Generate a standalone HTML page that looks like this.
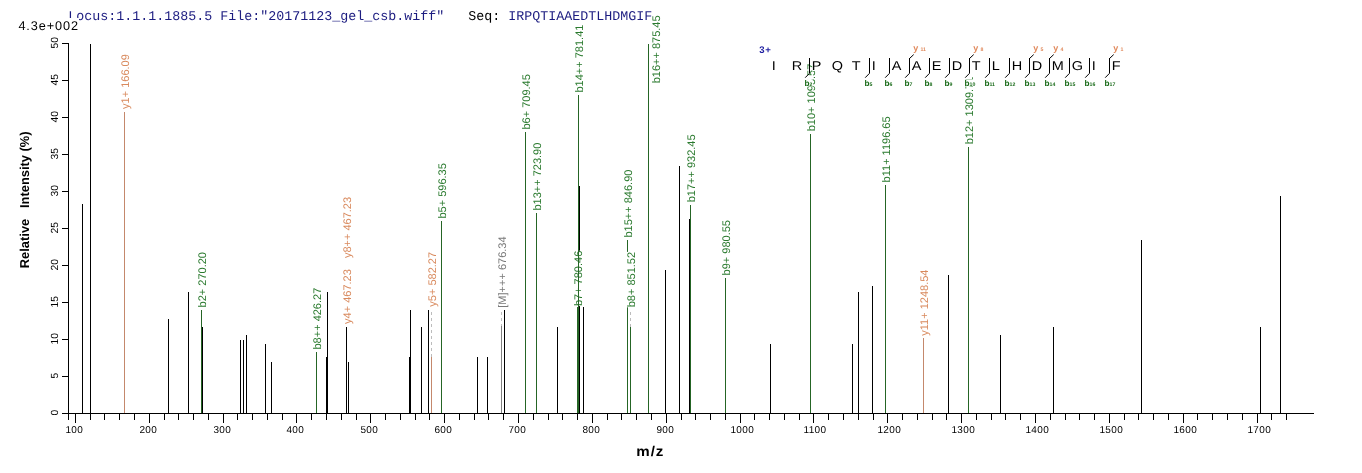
<!DOCTYPE html>
<html><head><meta charset="utf-8"><title>Spectrum</title>
<style>html,body{margin:0;padding:0;background:#fff;width:1362px;height:473px;overflow:hidden} svg{display:block}</style>
</head><body>
<svg width="1362" height="473" viewBox="0 0 1362 473" style="text-rendering:geometricPrecision">
<rect width="100%" height="100%" fill="#fff"/>
<text x="68.3" y="20" font-family="Liberation Mono, Courier New, monospace" font-size="13.33" fill="#1c1c80" xml:space="preserve">Locus:1.1.1.1885.5 File:"20171123_gel_csb.wiff"   <tspan fill="#000">Seq:</tspan> IRPQTIAAEDTLHDMGIF</text>
<rect x="15" y="18" width="64" height="15" fill="#fff"/>
<text x="18.4" y="30" font-family="Liberation Sans, Arial, sans-serif" font-size="12.7" letter-spacing="0.92" fill="#000">4.3e+002</text>
<g shape-rendering="crispEdges">
<rect x="68" y="43" width="1" height="371" fill="#000"/>
<rect x="62" y="413" width="6" height="1" fill="#000"/>
<rect x="62" y="376" width="6" height="1" fill="#000"/>
<rect x="62" y="339" width="6" height="1" fill="#000"/>
<rect x="62" y="302" width="6" height="1" fill="#000"/>
<rect x="62" y="265" width="6" height="1" fill="#000"/>
<rect x="62" y="228" width="6" height="1" fill="#000"/>
<rect x="62" y="191" width="6" height="1" fill="#000"/>
<rect x="62" y="154" width="6" height="1" fill="#000"/>
<rect x="62" y="117" width="6" height="1" fill="#000"/>
<rect x="62" y="80" width="6" height="1" fill="#000"/>
<rect x="62" y="43" width="6" height="1" fill="#000"/>
<rect x="62" y="413" width="1252" height="1" fill="#000"/>
<rect x="68" y="413" width="1" height="7" fill="#000"/>
<rect x="75" y="413" width="1" height="10" fill="#000"/>
<rect x="90" y="413" width="1" height="7" fill="#000"/>
<rect x="104" y="413" width="1" height="7" fill="#000"/>
<rect x="119" y="413" width="1" height="7" fill="#000"/>
<rect x="134" y="413" width="1" height="7" fill="#000"/>
<rect x="149" y="413" width="1" height="10" fill="#000"/>
<rect x="164" y="413" width="1" height="7" fill="#000"/>
<rect x="178" y="413" width="1" height="7" fill="#000"/>
<rect x="193" y="413" width="1" height="7" fill="#000"/>
<rect x="208" y="413" width="1" height="7" fill="#000"/>
<rect x="223" y="413" width="1" height="10" fill="#000"/>
<rect x="237" y="413" width="1" height="7" fill="#000"/>
<rect x="252" y="413" width="1" height="7" fill="#000"/>
<rect x="267" y="413" width="1" height="7" fill="#000"/>
<rect x="282" y="413" width="1" height="7" fill="#000"/>
<rect x="296" y="413" width="1" height="10" fill="#000"/>
<rect x="311" y="413" width="1" height="7" fill="#000"/>
<rect x="326" y="413" width="1" height="7" fill="#000"/>
<rect x="341" y="413" width="1" height="7" fill="#000"/>
<rect x="356" y="413" width="1" height="7" fill="#000"/>
<rect x="370" y="413" width="1" height="10" fill="#000"/>
<rect x="385" y="413" width="1" height="7" fill="#000"/>
<rect x="400" y="413" width="1" height="7" fill="#000"/>
<rect x="415" y="413" width="1" height="7" fill="#000"/>
<rect x="429" y="413" width="1" height="7" fill="#000"/>
<rect x="444" y="413" width="1" height="10" fill="#000"/>
<rect x="459" y="413" width="1" height="7" fill="#000"/>
<rect x="474" y="413" width="1" height="7" fill="#000"/>
<rect x="488" y="413" width="1" height="7" fill="#000"/>
<rect x="503" y="413" width="1" height="7" fill="#000"/>
<rect x="518" y="413" width="1" height="10" fill="#000"/>
<rect x="533" y="413" width="1" height="7" fill="#000"/>
<rect x="548" y="413" width="1" height="7" fill="#000"/>
<rect x="562" y="413" width="1" height="7" fill="#000"/>
<rect x="577" y="413" width="1" height="7" fill="#000"/>
<rect x="592" y="413" width="1" height="10" fill="#000"/>
<rect x="607" y="413" width="1" height="7" fill="#000"/>
<rect x="621" y="413" width="1" height="7" fill="#000"/>
<rect x="636" y="413" width="1" height="7" fill="#000"/>
<rect x="651" y="413" width="1" height="7" fill="#000"/>
<rect x="666" y="413" width="1" height="10" fill="#000"/>
<rect x="681" y="413" width="1" height="7" fill="#000"/>
<rect x="695" y="413" width="1" height="7" fill="#000"/>
<rect x="710" y="413" width="1" height="7" fill="#000"/>
<rect x="725" y="413" width="1" height="7" fill="#000"/>
<rect x="740" y="413" width="1" height="10" fill="#000"/>
<rect x="754" y="413" width="1" height="7" fill="#000"/>
<rect x="769" y="413" width="1" height="7" fill="#000"/>
<rect x="784" y="413" width="1" height="7" fill="#000"/>
<rect x="799" y="413" width="1" height="7" fill="#000"/>
<rect x="813" y="413" width="1" height="10" fill="#000"/>
<rect x="828" y="413" width="1" height="7" fill="#000"/>
<rect x="843" y="413" width="1" height="7" fill="#000"/>
<rect x="858" y="413" width="1" height="7" fill="#000"/>
<rect x="873" y="413" width="1" height="7" fill="#000"/>
<rect x="887" y="413" width="1" height="10" fill="#000"/>
<rect x="902" y="413" width="1" height="7" fill="#000"/>
<rect x="917" y="413" width="1" height="7" fill="#000"/>
<rect x="932" y="413" width="1" height="7" fill="#000"/>
<rect x="946" y="413" width="1" height="7" fill="#000"/>
<rect x="961" y="413" width="1" height="10" fill="#000"/>
<rect x="976" y="413" width="1" height="7" fill="#000"/>
<rect x="991" y="413" width="1" height="7" fill="#000"/>
<rect x="1005" y="413" width="1" height="7" fill="#000"/>
<rect x="1020" y="413" width="1" height="7" fill="#000"/>
<rect x="1035" y="413" width="1" height="10" fill="#000"/>
<rect x="1050" y="413" width="1" height="7" fill="#000"/>
<rect x="1065" y="413" width="1" height="7" fill="#000"/>
<rect x="1079" y="413" width="1" height="7" fill="#000"/>
<rect x="1094" y="413" width="1" height="7" fill="#000"/>
<rect x="1109" y="413" width="1" height="10" fill="#000"/>
<rect x="1124" y="413" width="1" height="7" fill="#000"/>
<rect x="1138" y="413" width="1" height="7" fill="#000"/>
<rect x="1153" y="413" width="1" height="7" fill="#000"/>
<rect x="1168" y="413" width="1" height="7" fill="#000"/>
<rect x="1183" y="413" width="1" height="10" fill="#000"/>
<rect x="1197" y="413" width="1" height="7" fill="#000"/>
<rect x="1212" y="413" width="1" height="7" fill="#000"/>
<rect x="1227" y="413" width="1" height="7" fill="#000"/>
<rect x="1242" y="413" width="1" height="7" fill="#000"/>
<rect x="1257" y="413" width="1" height="10" fill="#000"/>
<rect x="1271" y="413" width="1" height="7" fill="#000"/>
<rect x="1286" y="413" width="1" height="7" fill="#000"/>
</g>
<text transform="translate(57.8,412.7) rotate(-90)" text-anchor="middle" font-family="Liberation Sans, Arial, sans-serif" font-size="10.3" fill="#000">0</text>
<text transform="translate(57.8,375.7) rotate(-90)" text-anchor="middle" font-family="Liberation Sans, Arial, sans-serif" font-size="10.3" fill="#000">5</text>
<text transform="translate(57.8,338.7) rotate(-90)" text-anchor="middle" font-family="Liberation Sans, Arial, sans-serif" font-size="10.3" fill="#000">10</text>
<text transform="translate(57.8,301.7) rotate(-90)" text-anchor="middle" font-family="Liberation Sans, Arial, sans-serif" font-size="10.3" fill="#000">15</text>
<text transform="translate(57.8,264.7) rotate(-90)" text-anchor="middle" font-family="Liberation Sans, Arial, sans-serif" font-size="10.3" fill="#000">20</text>
<text transform="translate(57.8,227.7) rotate(-90)" text-anchor="middle" font-family="Liberation Sans, Arial, sans-serif" font-size="10.3" fill="#000">25</text>
<text transform="translate(57.8,190.7) rotate(-90)" text-anchor="middle" font-family="Liberation Sans, Arial, sans-serif" font-size="10.3" fill="#000">30</text>
<text transform="translate(57.8,153.7) rotate(-90)" text-anchor="middle" font-family="Liberation Sans, Arial, sans-serif" font-size="10.3" fill="#000">35</text>
<text transform="translate(57.8,116.7) rotate(-90)" text-anchor="middle" font-family="Liberation Sans, Arial, sans-serif" font-size="10.3" fill="#000">40</text>
<text transform="translate(57.8,79.7) rotate(-90)" text-anchor="middle" font-family="Liberation Sans, Arial, sans-serif" font-size="10.3" fill="#000">45</text>
<text transform="translate(57.8,42.7) rotate(-90)" text-anchor="middle" font-family="Liberation Sans, Arial, sans-serif" font-size="10.3" fill="#000">50</text>
<text x="65.4" y="432.7" font-family="Liberation Sans, Arial, sans-serif" font-size="10" letter-spacing="0.42" fill="#000">100</text>
<text x="139.4" y="432.7" font-family="Liberation Sans, Arial, sans-serif" font-size="10" letter-spacing="0.42" fill="#000">200</text>
<text x="213.4" y="432.7" font-family="Liberation Sans, Arial, sans-serif" font-size="10" letter-spacing="0.42" fill="#000">300</text>
<text x="286.4" y="432.7" font-family="Liberation Sans, Arial, sans-serif" font-size="10" letter-spacing="0.42" fill="#000">400</text>
<text x="360.4" y="432.7" font-family="Liberation Sans, Arial, sans-serif" font-size="10" letter-spacing="0.42" fill="#000">500</text>
<text x="434.4" y="432.7" font-family="Liberation Sans, Arial, sans-serif" font-size="10" letter-spacing="0.42" fill="#000">600</text>
<text x="508.4" y="432.7" font-family="Liberation Sans, Arial, sans-serif" font-size="10" letter-spacing="0.42" fill="#000">700</text>
<text x="582.4" y="432.7" font-family="Liberation Sans, Arial, sans-serif" font-size="10" letter-spacing="0.42" fill="#000">800</text>
<text x="656.4" y="432.7" font-family="Liberation Sans, Arial, sans-serif" font-size="10" letter-spacing="0.42" fill="#000">900</text>
<text x="730.4" y="432.7" font-family="Liberation Sans, Arial, sans-serif" font-size="10" letter-spacing="0.42" fill="#000">1000</text>
<text x="803.4" y="432.7" font-family="Liberation Sans, Arial, sans-serif" font-size="10" letter-spacing="0.42" fill="#000">1100</text>
<text x="877.4" y="432.7" font-family="Liberation Sans, Arial, sans-serif" font-size="10" letter-spacing="0.42" fill="#000">1200</text>
<text x="951.4" y="432.7" font-family="Liberation Sans, Arial, sans-serif" font-size="10" letter-spacing="0.42" fill="#000">1300</text>
<text x="1025.4" y="432.7" font-family="Liberation Sans, Arial, sans-serif" font-size="10" letter-spacing="0.42" fill="#000">1400</text>
<text x="1099.4" y="432.7" font-family="Liberation Sans, Arial, sans-serif" font-size="10" letter-spacing="0.42" fill="#000">1500</text>
<text x="1173.4" y="432.7" font-family="Liberation Sans, Arial, sans-serif" font-size="10" letter-spacing="0.42" fill="#000">1600</text>
<text x="1247.4" y="432.7" font-family="Liberation Sans, Arial, sans-serif" font-size="10" letter-spacing="0.42" fill="#000">1700</text>
<text transform="translate(28.7,199.8) rotate(-90)" text-anchor="middle" font-family="Liberation Sans, Arial, sans-serif" font-weight="bold" font-size="12.9" fill="#000" xml:space="preserve">Relative   Intensity (%)</text>
<text transform="translate(650.3,455.9) scale(1.08,1)" text-anchor="middle" font-family="Liberation Sans, Arial, sans-serif" font-weight="bold" font-size="14" letter-spacing="0.9" fill="#000">m/z</text>
<g shape-rendering="crispEdges">
<rect x="82" y="204" width="1" height="209" fill="#000"/>
<rect x="90" y="44" width="1" height="369" fill="#000"/>
<rect x="168" y="319" width="1" height="94" fill="#000"/>
<rect x="188" y="292" width="1" height="121" fill="#000"/>
<rect x="202" y="327" width="1" height="86" fill="#000"/>
<rect x="240" y="340" width="1" height="73" fill="#000"/>
<rect x="243" y="340" width="1" height="73" fill="#000"/>
<rect x="246" y="335" width="1" height="78" fill="#000"/>
<rect x="265" y="344" width="1" height="69" fill="#000"/>
<rect x="271" y="362" width="1" height="51" fill="#000"/>
<rect x="326" y="357" width="1" height="56" fill="#000"/>
<rect x="327" y="292" width="1" height="121" fill="#000"/>
<rect x="346" y="327" width="1" height="86" fill="#000"/>
<rect x="348" y="362" width="1" height="51" fill="#000"/>
<rect x="409" y="357" width="1" height="56" fill="#000"/>
<rect x="410" y="310" width="1" height="103" fill="#000"/>
<rect x="421" y="327" width="1" height="86" fill="#000"/>
<rect x="428" y="310" width="1" height="103" fill="#000"/>
<rect x="477" y="357" width="1" height="56" fill="#000"/>
<rect x="487" y="357" width="1" height="56" fill="#000"/>
<rect x="504" y="310" width="1" height="103" fill="#000"/>
<rect x="557" y="327" width="1" height="86" fill="#000"/>
<rect x="579" y="186" width="1" height="227" fill="#000"/>
<rect x="583" y="307" width="1" height="106" fill="#000"/>
<rect x="665" y="270" width="1" height="143" fill="#000"/>
<rect x="679" y="166" width="1" height="247" fill="#000"/>
<rect x="689" y="219" width="1" height="194" fill="#000"/>
<rect x="770" y="344" width="1" height="69" fill="#000"/>
<rect x="852" y="344" width="1" height="69" fill="#000"/>
<rect x="858" y="292" width="1" height="121" fill="#000"/>
<rect x="872" y="286" width="1" height="127" fill="#000"/>
<rect x="948" y="275" width="1" height="138" fill="#000"/>
<rect x="1000" y="335" width="1" height="78" fill="#000"/>
<rect x="1053" y="327" width="1" height="86" fill="#000"/>
<rect x="1141" y="240" width="1" height="173" fill="#000"/>
<rect x="1260" y="327" width="1" height="86" fill="#000"/>
<rect x="1280" y="196" width="1" height="217" fill="#000"/>
</g>
<rect x="124" y="112" width="1" height="301" fill="#c4886c" shape-rendering="crispEdges"/>
<rect x="120.4" y="54.2" width="10.6" height="54.7" fill="#fff"/>
<text transform="translate(128.6,108.9) rotate(-90)" font-family="Liberation Sans, Arial, sans-serif" font-size="11" fill="#d98a5e">y1+ 166.09</text>
<rect x="201" y="310" width="1" height="103" fill="#256525" shape-rendering="crispEdges"/>
<rect x="197.4" y="252.0" width="10.6" height="55.4" fill="#fff"/>
<text transform="translate(205.6,307.4) rotate(-90)" font-family="Liberation Sans, Arial, sans-serif" font-size="11" fill="#2a7a2e">b2+ 270.20</text>
<rect x="316" y="352" width="1" height="61" fill="#256525" shape-rendering="crispEdges"/>
<rect x="312.4" y="287.7" width="10.6" height="61.8" fill="#fff"/>
<text transform="translate(320.6,349.5) rotate(-90)" font-family="Liberation Sans, Arial, sans-serif" font-size="11" fill="#2a7a2e">b8++ 426.27</text>
<rect x="342.4" y="269.2" width="10.6" height="54.7" fill="#fff"/>
<text transform="translate(350.6,323.9) rotate(-90)" font-family="Liberation Sans, Arial, sans-serif" font-size="11" fill="#d98a5e">y4+ 467.23</text>
<rect x="342.4" y="196.9" width="10.6" height="61.2" fill="#fff"/>
<text transform="translate(350.6,258.1) rotate(-90)" font-family="Liberation Sans, Arial, sans-serif" font-size="11" fill="#d98a5e">y8++ 467.23</text>
<rect x="431" y="357" width="1" height="56" fill="#c4886c" shape-rendering="crispEdges"/>
<rect x="431" y="312" width="1" height="3" fill="#bcbcbc" shape-rendering="crispEdges"/>
<rect x="431" y="318" width="1" height="3" fill="#bcbcbc" shape-rendering="crispEdges"/>
<rect x="431" y="324" width="1" height="3" fill="#bcbcbc" shape-rendering="crispEdges"/>
<rect x="431" y="330" width="1" height="3" fill="#bcbcbc" shape-rendering="crispEdges"/>
<rect x="431" y="336" width="1" height="3" fill="#bcbcbc" shape-rendering="crispEdges"/>
<rect x="431" y="342" width="1" height="3" fill="#bcbcbc" shape-rendering="crispEdges"/>
<rect x="431" y="348" width="1" height="3" fill="#bcbcbc" shape-rendering="crispEdges"/>
<rect x="431" y="354" width="1" height="3" fill="#bcbcbc" shape-rendering="crispEdges"/>
<rect x="427.4" y="252.0" width="10.6" height="54.7" fill="#fff"/>
<text transform="translate(435.6,306.7) rotate(-90)" font-family="Liberation Sans, Arial, sans-serif" font-size="11" fill="#d98a5e">y5+ 582.27</text>
<rect x="441" y="221" width="1" height="192" fill="#256525" shape-rendering="crispEdges"/>
<rect x="437.4" y="163.1" width="10.6" height="55.4" fill="#fff"/>
<text transform="translate(445.6,218.5) rotate(-90)" font-family="Liberation Sans, Arial, sans-serif" font-size="11" fill="#2a7a2e">b5+ 596.35</text>
<rect x="501" y="326" width="1" height="87" fill="#808080" shape-rendering="crispEdges"/>
<rect x="501" y="312" width="1" height="3" fill="#bcbcbc" shape-rendering="crispEdges"/>
<rect x="501" y="318" width="1" height="3" fill="#bcbcbc" shape-rendering="crispEdges"/>
<rect x="501" y="324" width="1" height="2" fill="#bcbcbc" shape-rendering="crispEdges"/>
<rect x="497.4" y="236.5" width="10.6" height="71.2" fill="#fff"/>
<text transform="translate(505.6,307.7) rotate(-90)" font-family="Liberation Sans, Arial, sans-serif" font-size="11" fill="#7a7a7a">[M]+++ 676.34</text>
<rect x="525" y="132" width="1" height="281" fill="#256525" shape-rendering="crispEdges"/>
<rect x="521.4" y="74.1" width="10.6" height="55.4" fill="#fff"/>
<text transform="translate(529.6,129.5) rotate(-90)" font-family="Liberation Sans, Arial, sans-serif" font-size="11" fill="#2a7a2e">b6+ 709.45</text>
<rect x="536" y="213" width="1" height="200" fill="#256525" shape-rendering="crispEdges"/>
<rect x="532.4" y="142.7" width="10.6" height="67.9" fill="#fff"/>
<text transform="translate(540.6,210.6) rotate(-90)" font-family="Liberation Sans, Arial, sans-serif" font-size="11" fill="#2a7a2e">b13++ 723.90</text>
<rect x="577" y="307" width="1" height="106" fill="#256525" shape-rendering="crispEdges"/>
<rect x="573.4" y="250.7" width="10.6" height="55.4" fill="#fff"/>
<text transform="translate(581.6,306.1) rotate(-90)" font-family="Liberation Sans, Arial, sans-serif" font-size="11" fill="#2a7a2e">b7+ 780.46</text>
<rect x="578" y="95" width="1" height="318" fill="#256525" shape-rendering="crispEdges"/>
<rect x="574.4" y="24.6" width="10.6" height="67.9" fill="#fff"/>
<text transform="translate(582.6,92.5) rotate(-90)" font-family="Liberation Sans, Arial, sans-serif" font-size="11" fill="#2a7a2e">b14++ 781.41</text>
<rect x="627" y="240" width="1" height="173" fill="#256525" shape-rendering="crispEdges"/>
<rect x="623.4" y="169.6" width="10.6" height="67.9" fill="#fff"/>
<text transform="translate(631.6,237.5) rotate(-90)" font-family="Liberation Sans, Arial, sans-serif" font-size="11" fill="#2a7a2e">b15++ 846.90</text>
<rect x="630" y="327" width="1" height="86" fill="#256525" shape-rendering="crispEdges"/>
<rect x="630" y="312" width="1" height="3" fill="#bcbcbc" shape-rendering="crispEdges"/>
<rect x="630" y="318" width="1" height="3" fill="#bcbcbc" shape-rendering="crispEdges"/>
<rect x="630" y="324" width="1" height="3" fill="#bcbcbc" shape-rendering="crispEdges"/>
<rect x="626.4" y="251.9" width="10.6" height="55.4" fill="#fff"/>
<text transform="translate(634.6,307.3) rotate(-90)" font-family="Liberation Sans, Arial, sans-serif" font-size="11" fill="#2a7a2e">b8+ 851.52</text>
<rect x="648" y="44" width="1" height="369" fill="#256525" shape-rendering="crispEdges"/>
<rect x="651.7" y="15.4" width="10.6" height="67.9" fill="#fff"/>
<text transform="translate(659.9,83.3) rotate(-90)" font-family="Liberation Sans, Arial, sans-serif" font-size="11" fill="#2a7a2e">b16++ 875.45</text>
<rect x="690" y="205" width="1" height="208" fill="#256525" shape-rendering="crispEdges"/>
<rect x="686.4" y="134.4" width="10.6" height="67.9" fill="#fff"/>
<text transform="translate(694.6,202.3) rotate(-90)" font-family="Liberation Sans, Arial, sans-serif" font-size="11" fill="#2a7a2e">b17++ 932.45</text>
<rect x="725" y="278" width="1" height="135" fill="#256525" shape-rendering="crispEdges"/>
<rect x="721.4" y="220.0" width="10.6" height="55.4" fill="#fff"/>
<text transform="translate(729.6,275.4) rotate(-90)" font-family="Liberation Sans, Arial, sans-serif" font-size="11" fill="#2a7a2e">b9+ 980.55</text>
<rect x="810" y="134" width="1" height="279" fill="#256525" shape-rendering="crispEdges"/>
<rect x="806.4" y="63.7" width="10.6" height="67.6" fill="#fff"/>
<text transform="translate(814.6,131.3) rotate(-90)" font-family="Liberation Sans, Arial, sans-serif" font-size="11" fill="#2a7a2e">b10+ 1095.57</text>
<rect x="885" y="185" width="1" height="228" fill="#256525" shape-rendering="crispEdges"/>
<rect x="881.4" y="114.8" width="10.6" height="67.6" fill="#fff"/>
<text transform="translate(889.6,182.4) rotate(-90)" font-family="Liberation Sans, Arial, sans-serif" font-size="11" fill="#2a7a2e">b11+ 1196.65</text>
<rect x="923" y="338" width="1" height="75" fill="#c4886c" shape-rendering="crispEdges"/>
<rect x="919.4" y="268.7" width="10.6" height="67.0" fill="#fff"/>
<text transform="translate(927.6,335.7) rotate(-90)" font-family="Liberation Sans, Arial, sans-serif" font-size="11" fill="#d98a5e">y11+ 1248.54</text>
<rect x="968" y="147" width="1" height="266" fill="#256525" shape-rendering="crispEdges"/>
<rect x="964.4" y="76.7" width="10.6" height="67.6" fill="#fff"/>
<text transform="translate(972.6,144.3) rotate(-90)" font-family="Liberation Sans, Arial, sans-serif" font-size="11" fill="#2a7a2e">b12+ 1309.71</text>
<text x="759.3" y="52.8" font-family="Liberation Sans, Arial, sans-serif" font-weight="bold" font-size="9.6" letter-spacing="0.7" fill="#1c1ca0">3+</text>
<rect x="772.2" y="60" width="3.0" height="11" fill="#fff"/>
<text transform="translate(771.7,69.8) scale(1.13,1)" font-family="Liberation Sans, Arial, sans-serif" font-size="12.8" fill="#000">I</text>
<rect x="792.2" y="60" width="9.4" height="11" fill="#fff"/>
<text transform="translate(791.7,69.8) scale(1.13,1)" font-family="Liberation Sans, Arial, sans-serif" font-size="12.8" fill="#000">R</text>
<rect x="812.2" y="60" width="8.6" height="11" fill="#fff"/>
<text transform="translate(811.7,69.8) scale(1.13,1)" font-family="Liberation Sans, Arial, sans-serif" font-size="12.8" fill="#000">P</text>
<rect x="832.2" y="60" width="10.2" height="11" fill="#fff"/>
<text transform="translate(831.7,69.8) scale(1.13,1)" font-family="Liberation Sans, Arial, sans-serif" font-size="12.8" fill="#000">Q</text>
<rect x="852.2" y="60" width="7.8" height="11" fill="#fff"/>
<text transform="translate(851.7,69.8) scale(1.13,1)" font-family="Liberation Sans, Arial, sans-serif" font-size="12.8" fill="#000">T</text>
<rect x="872.2" y="60" width="3.0" height="11" fill="#fff"/>
<text transform="translate(871.7,69.8) scale(1.13,1)" font-family="Liberation Sans, Arial, sans-serif" font-size="12.8" fill="#000">I</text>
<rect x="892.2" y="60" width="8.6" height="11" fill="#fff"/>
<text transform="translate(891.7,69.8) scale(1.13,1)" font-family="Liberation Sans, Arial, sans-serif" font-size="12.8" fill="#000">A</text>
<rect x="912.2" y="60" width="8.6" height="11" fill="#fff"/>
<text transform="translate(911.7,69.8) scale(1.13,1)" font-family="Liberation Sans, Arial, sans-serif" font-size="12.8" fill="#000">A</text>
<rect x="932.2" y="60" width="8.6" height="11" fill="#fff"/>
<text transform="translate(931.7,69.8) scale(1.13,1)" font-family="Liberation Sans, Arial, sans-serif" font-size="12.8" fill="#000">E</text>
<rect x="952.2" y="60" width="9.4" height="11" fill="#fff"/>
<text transform="translate(951.7,69.8) scale(1.13,1)" font-family="Liberation Sans, Arial, sans-serif" font-size="12.8" fill="#000">D</text>
<rect x="972.2" y="60" width="7.8" height="11" fill="#fff"/>
<text transform="translate(971.7,69.8) scale(1.13,1)" font-family="Liberation Sans, Arial, sans-serif" font-size="12.8" fill="#000">T</text>
<rect x="992.2" y="60" width="7.0" height="11" fill="#fff"/>
<text transform="translate(991.7,69.8) scale(1.13,1)" font-family="Liberation Sans, Arial, sans-serif" font-size="12.8" fill="#000">L</text>
<rect x="1012.2" y="60" width="9.4" height="11" fill="#fff"/>
<text transform="translate(1011.7,69.8) scale(1.13,1)" font-family="Liberation Sans, Arial, sans-serif" font-size="12.8" fill="#000">H</text>
<rect x="1032.2" y="60" width="9.4" height="11" fill="#fff"/>
<text transform="translate(1031.7,69.8) scale(1.13,1)" font-family="Liberation Sans, Arial, sans-serif" font-size="12.8" fill="#000">D</text>
<rect x="1052.2" y="60" width="11.0" height="11" fill="#fff"/>
<text transform="translate(1051.7,69.8) scale(1.13,1)" font-family="Liberation Sans, Arial, sans-serif" font-size="12.8" fill="#000">M</text>
<rect x="1072.2" y="60" width="10.2" height="11" fill="#fff"/>
<text transform="translate(1071.7,69.8) scale(1.13,1)" font-family="Liberation Sans, Arial, sans-serif" font-size="12.8" fill="#000">G</text>
<rect x="1092.2" y="60" width="3.0" height="11" fill="#fff"/>
<text transform="translate(1091.7,69.8) scale(1.13,1)" font-family="Liberation Sans, Arial, sans-serif" font-size="12.8" fill="#000">I</text>
<rect x="1112.2" y="60" width="7.8" height="11" fill="#fff"/>
<text transform="translate(1111.7,69.8) scale(1.13,1)" font-family="Liberation Sans, Arial, sans-serif" font-size="12.8" fill="#000">F</text>
<line x1="809.5" y1="58" x2="809.5" y2="73.3" stroke="#000" stroke-width="1"/>
<line x1="809.5" y1="73.3" x2="805.2" y2="77.7" stroke="#000" stroke-width="1"/>
<rect x="804.3" y="79.3" width="8.5" height="7.2" fill="#fff"/>
<text x="804.5" y="85.8" font-family="Liberation Sans, Arial, sans-serif" font-weight="bold" font-size="8.2" fill="#176a17">b<tspan font-size="5.2">2</tspan></text>
<line x1="869.5" y1="58" x2="869.5" y2="73.3" stroke="#000" stroke-width="1"/>
<line x1="869.5" y1="73.3" x2="865.2" y2="77.7" stroke="#000" stroke-width="1"/>
<rect x="864.3" y="79.3" width="8.5" height="7.2" fill="#fff"/>
<text x="864.5" y="85.8" font-family="Liberation Sans, Arial, sans-serif" font-weight="bold" font-size="8.2" fill="#176a17">b<tspan font-size="5.2">5</tspan></text>
<line x1="889.5" y1="58" x2="889.5" y2="73.3" stroke="#000" stroke-width="1"/>
<line x1="889.5" y1="73.3" x2="885.2" y2="77.7" stroke="#000" stroke-width="1"/>
<rect x="884.3" y="79.3" width="8.5" height="7.2" fill="#fff"/>
<text x="884.5" y="85.8" font-family="Liberation Sans, Arial, sans-serif" font-weight="bold" font-size="8.2" fill="#176a17">b<tspan font-size="5.2">6</tspan></text>
<line x1="909.5" y1="58" x2="909.5" y2="73.3" stroke="#000" stroke-width="1"/>
<line x1="909.5" y1="73.3" x2="905.2" y2="77.7" stroke="#000" stroke-width="1"/>
<rect x="904.3" y="79.3" width="8.5" height="7.2" fill="#fff"/>
<text x="904.5" y="85.8" font-family="Liberation Sans, Arial, sans-serif" font-weight="bold" font-size="8.2" fill="#176a17">b<tspan font-size="5.2">7</tspan></text>
<line x1="909.5" y1="58.5" x2="913.7" y2="54.6" stroke="#000" stroke-width="1"/>
<text x="913.3" y="51" font-family="Liberation Sans, Arial, sans-serif" font-weight="bold" font-size="9" fill="#e0885a">y<tspan font-size="5.2" dx="2.2">11</tspan></text>
<line x1="929.5" y1="58" x2="929.5" y2="73.3" stroke="#000" stroke-width="1"/>
<line x1="929.5" y1="73.3" x2="925.2" y2="77.7" stroke="#000" stroke-width="1"/>
<rect x="924.3" y="79.3" width="8.5" height="7.2" fill="#fff"/>
<text x="924.5" y="85.8" font-family="Liberation Sans, Arial, sans-serif" font-weight="bold" font-size="8.2" fill="#176a17">b<tspan font-size="5.2">8</tspan></text>
<line x1="949.5" y1="58" x2="949.5" y2="73.3" stroke="#000" stroke-width="1"/>
<line x1="949.5" y1="73.3" x2="945.2" y2="77.7" stroke="#000" stroke-width="1"/>
<rect x="944.3" y="79.3" width="8.5" height="7.2" fill="#fff"/>
<text x="944.5" y="85.8" font-family="Liberation Sans, Arial, sans-serif" font-weight="bold" font-size="8.2" fill="#176a17">b<tspan font-size="5.2">9</tspan></text>
<line x1="969.5" y1="58" x2="969.5" y2="73.3" stroke="#000" stroke-width="1"/>
<line x1="969.5" y1="73.3" x2="965.2" y2="77.7" stroke="#000" stroke-width="1"/>
<rect x="964.3" y="79.3" width="11" height="7.2" fill="#fff"/>
<text x="964.5" y="85.8" font-family="Liberation Sans, Arial, sans-serif" font-weight="bold" font-size="8.2" fill="#176a17">b<tspan font-size="5.2">10</tspan></text>
<line x1="969.5" y1="58.5" x2="973.7" y2="54.6" stroke="#000" stroke-width="1"/>
<text x="973.3" y="51" font-family="Liberation Sans, Arial, sans-serif" font-weight="bold" font-size="9" fill="#e0885a">y<tspan font-size="5.2" dx="2.2">8</tspan></text>
<line x1="989.5" y1="58" x2="989.5" y2="73.3" stroke="#000" stroke-width="1"/>
<line x1="989.5" y1="73.3" x2="985.2" y2="77.7" stroke="#000" stroke-width="1"/>
<rect x="984.3" y="79.3" width="11" height="7.2" fill="#fff"/>
<text x="984.5" y="85.8" font-family="Liberation Sans, Arial, sans-serif" font-weight="bold" font-size="8.2" fill="#176a17">b<tspan font-size="5.2">11</tspan></text>
<line x1="1009.5" y1="58" x2="1009.5" y2="73.3" stroke="#000" stroke-width="1"/>
<line x1="1009.5" y1="73.3" x2="1005.2" y2="77.7" stroke="#000" stroke-width="1"/>
<rect x="1004.3" y="79.3" width="11" height="7.2" fill="#fff"/>
<text x="1004.5" y="85.8" font-family="Liberation Sans, Arial, sans-serif" font-weight="bold" font-size="8.2" fill="#176a17">b<tspan font-size="5.2">12</tspan></text>
<line x1="1029.5" y1="58" x2="1029.5" y2="73.3" stroke="#000" stroke-width="1"/>
<line x1="1029.5" y1="73.3" x2="1025.2" y2="77.7" stroke="#000" stroke-width="1"/>
<rect x="1024.3" y="79.3" width="11" height="7.2" fill="#fff"/>
<text x="1024.5" y="85.8" font-family="Liberation Sans, Arial, sans-serif" font-weight="bold" font-size="8.2" fill="#176a17">b<tspan font-size="5.2">13</tspan></text>
<line x1="1029.5" y1="58.5" x2="1033.7" y2="54.6" stroke="#000" stroke-width="1"/>
<text x="1033.3" y="51" font-family="Liberation Sans, Arial, sans-serif" font-weight="bold" font-size="9" fill="#e0885a">y<tspan font-size="5.2" dx="2.2">5</tspan></text>
<line x1="1049.5" y1="58" x2="1049.5" y2="73.3" stroke="#000" stroke-width="1"/>
<line x1="1049.5" y1="73.3" x2="1045.2" y2="77.7" stroke="#000" stroke-width="1"/>
<rect x="1044.3" y="79.3" width="11" height="7.2" fill="#fff"/>
<text x="1044.5" y="85.8" font-family="Liberation Sans, Arial, sans-serif" font-weight="bold" font-size="8.2" fill="#176a17">b<tspan font-size="5.2">14</tspan></text>
<line x1="1049.5" y1="58.5" x2="1053.7" y2="54.6" stroke="#000" stroke-width="1"/>
<text x="1053.3" y="51" font-family="Liberation Sans, Arial, sans-serif" font-weight="bold" font-size="9" fill="#e0885a">y<tspan font-size="5.2" dx="2.2">4</tspan></text>
<line x1="1069.5" y1="58" x2="1069.5" y2="73.3" stroke="#000" stroke-width="1"/>
<line x1="1069.5" y1="73.3" x2="1065.2" y2="77.7" stroke="#000" stroke-width="1"/>
<rect x="1064.3" y="79.3" width="11" height="7.2" fill="#fff"/>
<text x="1064.5" y="85.8" font-family="Liberation Sans, Arial, sans-serif" font-weight="bold" font-size="8.2" fill="#176a17">b<tspan font-size="5.2">15</tspan></text>
<line x1="1089.5" y1="58" x2="1089.5" y2="73.3" stroke="#000" stroke-width="1"/>
<line x1="1089.5" y1="73.3" x2="1085.2" y2="77.7" stroke="#000" stroke-width="1"/>
<rect x="1084.3" y="79.3" width="11" height="7.2" fill="#fff"/>
<text x="1084.5" y="85.8" font-family="Liberation Sans, Arial, sans-serif" font-weight="bold" font-size="8.2" fill="#176a17">b<tspan font-size="5.2">16</tspan></text>
<line x1="1109.5" y1="58" x2="1109.5" y2="73.3" stroke="#000" stroke-width="1"/>
<line x1="1109.5" y1="73.3" x2="1105.2" y2="77.7" stroke="#000" stroke-width="1"/>
<rect x="1104.3" y="79.3" width="11" height="7.2" fill="#fff"/>
<text x="1104.5" y="85.8" font-family="Liberation Sans, Arial, sans-serif" font-weight="bold" font-size="8.2" fill="#176a17">b<tspan font-size="5.2">17</tspan></text>
<line x1="1109.5" y1="58.5" x2="1113.7" y2="54.6" stroke="#000" stroke-width="1"/>
<text x="1113.3" y="51" font-family="Liberation Sans, Arial, sans-serif" font-weight="bold" font-size="9" fill="#e0885a">y<tspan font-size="5.2" dx="2.2">1</tspan></text>
</svg>
</body></html>
